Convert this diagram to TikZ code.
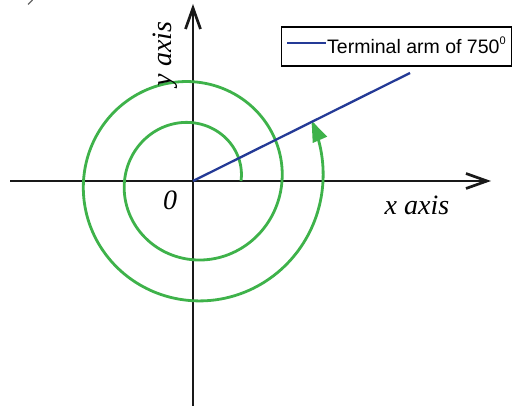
\documentclass[tikz,border=0pt]{standalone}
\usepackage{fontspec}
\setmainfont{Liberation Serif}
\setsansfont{Liberation Sans}
\usetikzlibrary{arrows.meta}
\definecolor{spiralgreen}{RGB}{62,178,74}
\definecolor{armblue}{RGB}{36,58,150}
\tikzset{
  axisline/.style={line width=2.7pt, draw=black!90},
  axislabel/.style={font=\fontsize{28}{28}\selectfont\itshape, inner sep=0pt},
  spiral/.style={line width=2.8pt, draw=spiralgreen},
  arm/.style={line width=2.3pt, draw=armblue},
  legendbox/.style={draw=black, line width=1.4pt, minimum width=230pt, minimum height=39pt, inner sep=0pt},
  legendtext/.style={font=\sffamily\fontsize{19.5}{19.5}\selectfont, inner sep=0pt, anchor=west}
}
\begin{document}
\begin{tikzpicture}[x=1pt,y=-1pt]
\useasboundingbox (0,0) rectangle (515,406);
% fragment in the corner
\draw[line width=1.2pt, draw=black!60] (28,4.5) -- (32.5,0);
% coordinates
\coordinate (O) at (193,181);
\coordinate (xl) at (10,181);
\coordinate (xr) at (491,181);
\coordinate (yb) at (193,406);
\coordinate (yt) at (193,4);
\coordinate (armend) at (410,73);
% axes
\draw[axisline, -{Straight Barb[length=21pt,width=15pt,line width=2.7pt]}] (xl) -- (xr);
\draw[axisline, -{Straight Barb[length=21pt,width=15pt,line width=2.7pt]}] (yb) -- (yt);
% spiral
\draw[spiral, -{Triangle[length=21pt,width=15pt]}]
  plot[domain=0:747, samples=400, smooth]
  ({193 + (48+0.11389*\x)*cos(\x)}, {181 - (48+0.11389*\x)*sin(\x)});
% terminal arm
\draw[arm] (O) -- (armend);
% labels
\node[axislabel] (xlab) at (417,205) {x axis};
\node[axislabel, rotate=90] (ylab) at (165,54) {y axis};
\node[axislabel] (zero) at (170,200) {0};
% legend
\node[legendbox] (legend) at (396.5,46.5) {};
\coordinate (ll) at (287,43);
\coordinate (lr) at (326,43);
\draw[arm] (ll) -- (lr);
\node[legendtext] (ltext) at (327,45) {Terminal arm of 750\raisebox{0.45em}{\fontsize{11}{11}\selectfont 0}};
\end{tikzpicture}
\end{document}
